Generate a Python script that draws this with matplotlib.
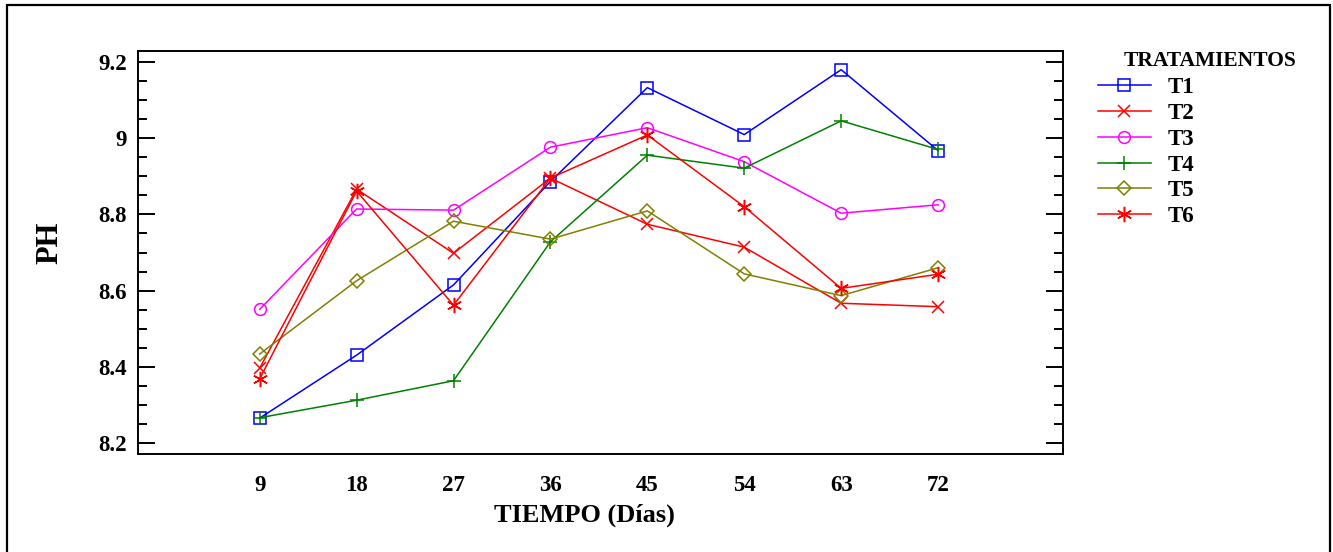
import matplotlib
matplotlib.use("Agg")
import matplotlib.pyplot as plt
from matplotlib.patches import Rectangle
from matplotlib.ticker import MultipleLocator

plt.rcParams['font.family'] = ['Liberation Serif', 'DejaVu Serif']
plt.rcParams['font.weight'] = 'bold'

# data
dias = [9, 18, 27, 36, 45, 54, 63, 72]
t1 = [8.266, 8.431, 8.615, 8.886, 9.132, 9.009, 9.179, 8.967]
t2 = [8.397, 8.866, 8.698, 8.895, 8.774, 8.714, 8.567, 8.558]
t3 = [8.551, 8.814, 8.811, 8.976, 9.027, 8.938, 8.803, 8.825]
t4 = [8.267, 8.313, 8.364, 8.728, 8.955, 8.921, 9.045, 8.970]
t5 = [8.434, 8.626, 8.782, 8.735, 8.809, 8.644, 8.587, 8.660]
t6 = [8.369, 8.861, 8.562, 8.895, 9.008, 8.820, 8.606, 8.643]

nombres = ['T1', 'T2', 'T3', 'T4', 'T5', 'T6']
series = [t1, t2, t3, t4, t5, t6]
colores = ['#0000ff', '#ff0000', '#ff00ff', '#008000', '#808000', '#ff0000']
marcas = ['s', 'x', 'o', '+', 'D', (6, 2, 0)]
tamanos = [8, 9, 8.5, 10, 7, 11]

fig = plt.figure(figsize=(13.33, 5.52), dpi=100)
ax = fig.add_axes([138 / 1333, 1 - 454 / 552, 925 / 1333, 403 / 552])

for nom, s, c, m, ms in zip(nombres, series, colores, marcas, tamanos):
    ax.plot(dias, s, color=c, marker=m, markersize=ms, markerfacecolor='none',
            markeredgecolor=c, markeredgewidth=1.1, linewidth=1.1, label=nom)

ax.set_xlim(-2.3, 83.6)
ax.set_ylim(8.172, 9.228)
ax.set_xticks(dias)
ax.yaxis.set_major_locator(MultipleLocator(0.2))
ax.yaxis.set_minor_locator(MultipleLocator(0.05))
ax.set_yticks([8.2, 8.4, 8.6, 8.8, 9.0, 9.2])
ax.set_yticklabels(['8.2', '8.4', '8.6', '8.8', '9', '9.2'])

ax.tick_params(axis='x', length=0, pad=15, labelsize=16.5)
ax.tick_params(axis='y', which='major', direction='in', left=True, right=True,
               length=12.5, width=1.4, pad=8, labelsize=16.5)
ax.tick_params(axis='y', which='minor', direction='in', left=True, right=True,
               length=6.5, width=1.4)
for sp in ax.spines.values():
    sp.set_linewidth(1.4)

ax.set_xlabel('TIEMPO (Días)', fontsize=19, fontweight='bold')
ax.xaxis.set_label_coords(0.4827, -0.124)
ax.set_ylabel('PH', fontsize=22, fontweight='bold')
ax.yaxis.set_label_coords(-0.079, 0.524)

leg = ax.legend(loc='upper left', bbox_to_anchor=(1098 / 1333, 1 - 77 / 552),
                bbox_transform=fig.transFigure, frameon=False, fontsize=16.5,
                handlelength=2.3, handletextpad=0.75, labelspacing=0.21,
                borderpad=0, borderaxespad=0)
for t in leg.get_texts():
    t.set_fontweight('bold')
fig.text(1210 / 1333, 1 - 61 / 552, 'TRATAMIENTOS', fontsize=15.5,
         fontweight='bold', ha='center', va='center')

# marco exterior
fig.patches.append(Rectangle((7 / 1333, -0.05), 1323 / 1333, 1.05 - 5 / 552,
                             transform=fig.transFigure, fill=False,
                             edgecolor='black', linewidth=1.6))

fig.savefig('out.png', dpi=100)
